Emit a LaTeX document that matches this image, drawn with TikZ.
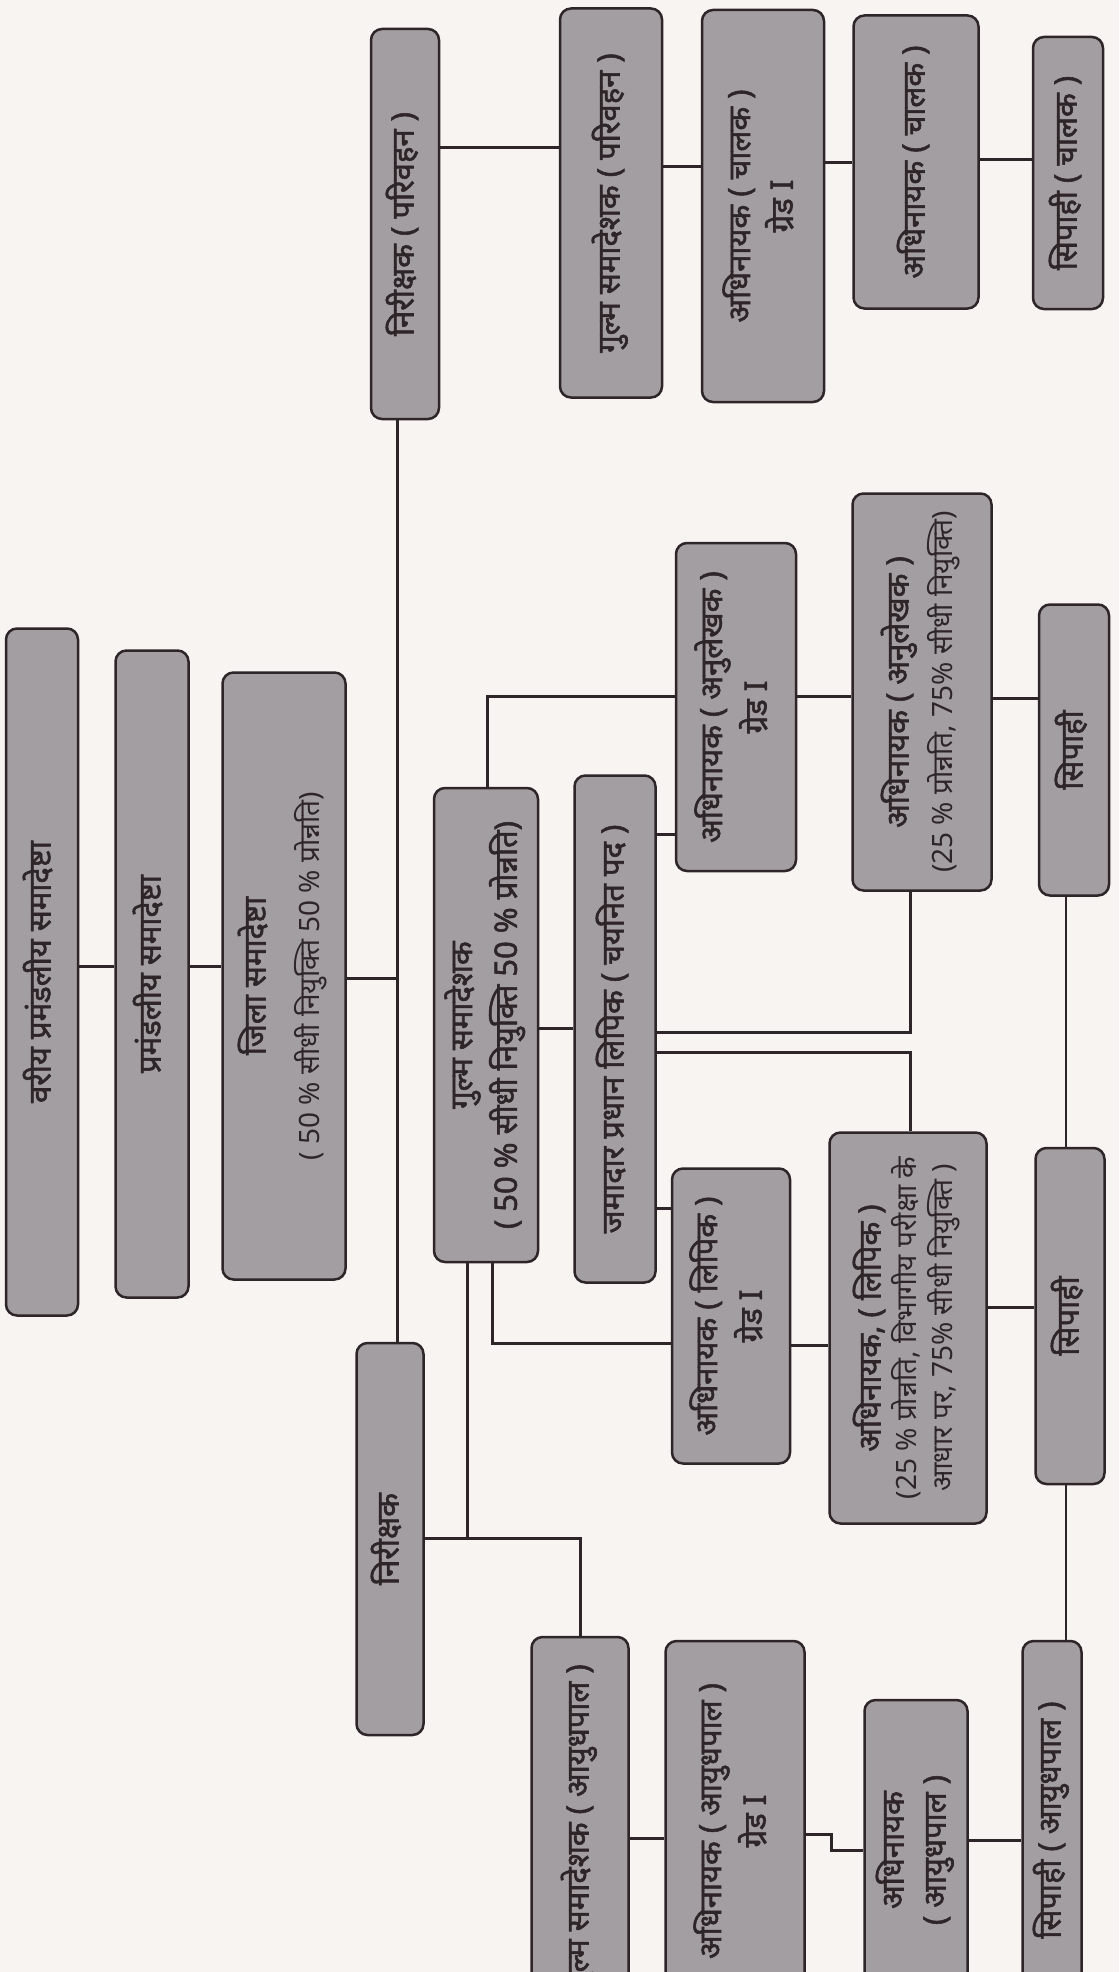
\documentclass[tikz,border=0pt]{standalone}
\usepackage{fontspec}
\usepackage{graphicx}
\usetikzlibrary{positioning}
\newfontfamily\deva[Script=Devanagari, AutoFakeBold=1.8]{Noto Sans}
\definecolor{paper}{HTML}{F8F4F2}
\definecolor{boxgray}{HTML}{A39EA1}
\definecolor{inkdark}{HTML}{2E2529}
\newcommand{\vtext}[1]{\rotatebox{90}{\begin{tabular}{@{}c@{}}#1\end{tabular}}}
\newcommand{\subline}{\mdseries\fontsize{28}{34}\selectfont}

\begin{document}
\begin{tikzpicture}[x=1pt, y=-1pt,
    box/.style={draw=inkdark, fill=boxgray, line width=2.5pt, rounded corners=11pt, inner sep=0pt, text=inkdark, font=\deva\fontsize{31}{36}\selectfont\bfseries},
    link/.style={draw=inkdark, line width=3pt},
    thinlink/.style={draw=inkdark, line width=1.5pt}]
\fill[paper] (0,0) rectangle (1119,1972);
\useasboundingbox (0,0) rectangle (1119,1972);
\node[box, minimum width=72pt, minimum height=687pt] (vpsam) at (42,972) {\vtext{वरीय प्रमंडलीय समादेष्टा}};
\node[box, minimum width=73pt, minimum height=647pt] (psam) at (152,974) {\vtext{प्रमंडलीय समादेष्टा}};
\node[box, minimum width=123pt, minimum height=607pt] (jsam) at (284,976) {\vtext{जिला समादेष्टा\\[18pt] {\subline ( 50 \% सीधी नियुक्ति 50 \% प्रोन्नति)}}};
\node[box, minimum width=68pt, minimum height=390pt] (nirp) at (405,224) {\vtext{निरीक्षक ( परिवहन )}};
\node[box, minimum width=102pt, minimum height=389pt] (gulmp) at (611,203) {\vtext{गुल्म समादेशक ( परिवहन )}};
\node[box, minimum width=122pt, minimum height=392pt] (chg1) at (763,206) {\vtext{अधिनायक ( चालक )\\[4pt] ग्रेड I}};
\node[box, minimum width=125pt, minimum height=293pt] (ch) at (916,162) {\vtext{अधिनायक ( चालक )}};
\node[box, minimum width=70pt, minimum height=272pt] (sipch) at (1068,173) {\vtext{सिपाही ( चालक )}};
\node[box, minimum width=104pt, minimum height=474pt] (gulm) at (486,1025) {\vtext{गुल्म समादेशक\\[6pt] ( 50 \% सीधी नियुक्ति 50 \% प्रोन्नति)}};
\node[box, minimum width=81pt, minimum height=507pt] (jam) at (615,1029) {\vtext{जमादार प्रधान लिपिक ( चयनित पद )}};
\node[box, minimum width=120pt, minimum height=328pt] (anug1) at (736,707) {\vtext{अधिनायक ( अनुलेखक )\\[6pt] ग्रेड I}};
\node[box, minimum width=139pt, minimum height=397pt] (anu) at (922,692) {\vtext{अधिनायक ( अनुलेखक )\\[8pt] {\subline (25 \% प्रोन्नति, 75\% सीधी नियुक्ति)}}};
\node[box, minimum width=70pt, minimum height=291pt] (sip1) at (1074,750) {\vtext{सिपाही}};
\node[box, minimum width=118pt, minimum height=295pt] (lipg1) at (731,1316) {\vtext{अधिनायक ( लिपिक )\\[6pt] ग्रेड I}};
\node[box, minimum width=157pt, minimum height=391pt] (lip) at (908,1328) {\vtext{अधिनायक, ( लिपिक )\\ {\subline (25 \% प्रोन्नति, विभागीय परीक्षा के}\\ {\subline आधार पर, 75\% सीधी नियुक्ति )}}};
\node[box, minimum width=69pt, minimum height=336pt] (sip2) at (1070,1316) {\vtext{सिपाही}};
\node[box, minimum width=67pt, minimum height=392pt] (nir) at (390,1539) {\vtext{निरीक्षक}};
\node[box, minimum width=97pt, minimum height=380pt] (gulma) at (580,1827) {\vtext{गुल्म समादेशक ( आयुधपाल )}};
\node[box, minimum width=139pt, minimum height=360pt] (ayug1) at (735,1821) {\vtext{अधिनायक ( आयुधपाल )\\[6pt] ग्रेड I}};
\node[box, minimum width=103pt, minimum height=300pt] (ayu) at (916,1850) {\vtext{अधिनायक\\[6pt] ( आयुधपाल )}};
\node[box, minimum width=59pt, minimum height=358pt] (sipa) at (1052,1820) {\vtext{सिपाही ( आयुधपाल )}};
\coordinate (trunk) at (397,0);
\draw[link] (vpsam.east |- 0,966) -- (psam.west |- 0,966);
\draw[link] (psam.east |- 0,966) -- (jsam.west |- 0,966);
\draw[link] (jsam.east |- 0,978) -- (trunk |- 0,978);
\draw[link] (nirp.south -| trunk) -- (nir.north -| trunk);
\draw[link] (nirp.east |- 0,148) -- (gulmp.west |- 0,148);
\draw[link] (gulmp.east |- 0,167) -- (chg1.west |- 0,167);
\draw[link] (chg1.east |- 0,163) -- (ch.west |- 0,163);
\draw[link] (ch.east |- 0,160) -- (sipch.west |- 0,160);
\draw[link] (gulm.north -| 487,0) |- (anug1.west |- 0,696);
\draw[link] (anug1.east |- 0,696) -- (anu.west |- 0,696);
\draw[link] (anu.east |- 0,698) -- (sip1.west |- 0,698);
\draw[link] (gulm.east |- 0,1028) -- (jam.west |- 0,1028);
\draw[link] (jam.east |- 0,834) -- (anug1.west |- 0,834);
\draw[link] (jam.east |- 0,1032) -| (anu.south -| 910,0);
\draw[link] (jam.east |- 0,1052) -| (lip.north -| 910,0);
\draw[link] (jam.east |- 0,1208) -- (lipg1.west |- 0,1208);
\draw[link] (gulm.south -| 492,0) |- (lipg1.west |- 0,1343);
\draw[link] (lipg1.east |- 0,1345) -- (lip.west |- 0,1345);
\draw[link] (lip.east |- 0,1307) -- (sip2.west |- 0,1307);
\draw[thinlink] (sip1.south -| 1066,0) -- (sip2.north -| 1066,0);
\draw[thinlink] (sip2.south -| 1066,0) -- (sipa.north -| 1066,0);
\draw[link] (gulm.south -| 467,0) |- (nir.east |- 0,1538);
\draw[link] (nir.east |- 0,1538) -| (gulma.north);
\draw[link] (gulma.east |- 0,1838) -- (ayug1.west |- 0,1838);
\draw[link] (ayug1.east |- 0,1834) -- ++(26,0) |- (ayu.west |- 0,1850);
\draw[link] (ayu.east |- 0,1840) -- (sipa.west |- 0,1840);
\end{tikzpicture}
\end{document}
